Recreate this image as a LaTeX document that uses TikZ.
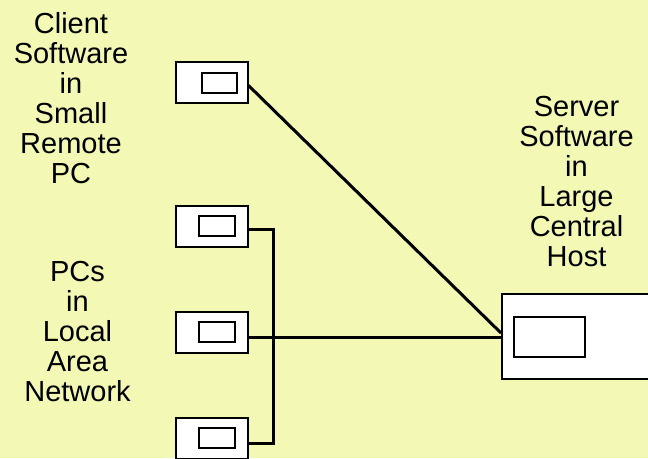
\documentclass[tikz,border=0pt]{standalone}
\usepackage{fontspec}
\setmainfont{Liberation Sans}
\definecolor{bgyellow}{RGB}{243,249,181}
\begin{document}
\begin{tikzpicture}[x=1pt,y=-1pt,
  pcbox/.style={draw=black,fill=white,line width=2pt,inner sep=0pt,minimum width=72pt,minimum height=41pt},
  screen/.style={draw=black,fill=white,line width=2pt,inner sep=0pt},
  wire/.style={draw=black,line width=3pt},
  label/.style={align=center,inner sep=0pt,anchor=north,font=\fontsize{29}{30}\selectfont}]
\fill[bgyellow] (0,0) rectangle (648,458);
\useasboundingbox (0,0) rectangle (648,458);
% client PC
\node[pcbox] (cl) at (211.5,82.5) {};
\node[screen,minimum width=35pt,minimum height=20pt] (cls) at (219.5,83) {};
% LAN PCs
\node[pcbox] (l1) at (211.5,226) {};
\node[screen,minimum width=36pt,minimum height=20pt] (l1s) at (217,226) {};
\node[pcbox] (l2) at (211.5,332) {};
\node[screen,minimum width=36pt,minimum height=20pt] (l2s) at (217,332) {};
\node[pcbox] (l3) at (211.5,438) {};
\node[screen,minimum width=36pt,minimum height=20pt] (l3s) at (217,437.5) {};
% server
\node[pcbox,minimum width=158pt,minimum height=85pt] (srv) at (581,336) {};
\node[screen,minimum width=71pt,minimum height=40pt] (srvs) at (549,336.5) {};
% labels
\node[label] (tcl) at (71,12) {Client\\Software\\in\\Small\\Remote\\PC};
\node[label] (tlan) at (77.5,261) {PCs\\in\\Local\\Area\\Network};
\node[label] (tsrv) at (576.5,96) {Server\\Software\\in\\Large\\Central\\Host};
% connectors
\coordinate (bus1) at (273,229);
\coordinate (bus3) at (273,443);
\coordinate (srvin) at ([yshift=-3pt]srv.west);
\draw[wire] ([yshift=-3pt]cl.east) -- ([yshift=3pt]srv.west);
\draw[wire] ([yshift=-3pt]l1.east) -- (bus1) -- (bus3) -- ([yshift=-5pt]l3.east);
\draw[wire] ([yshift=-5pt]l2.east) -- ([yshift=-1pt]srv.west);
\end{tikzpicture}
\end{document}
